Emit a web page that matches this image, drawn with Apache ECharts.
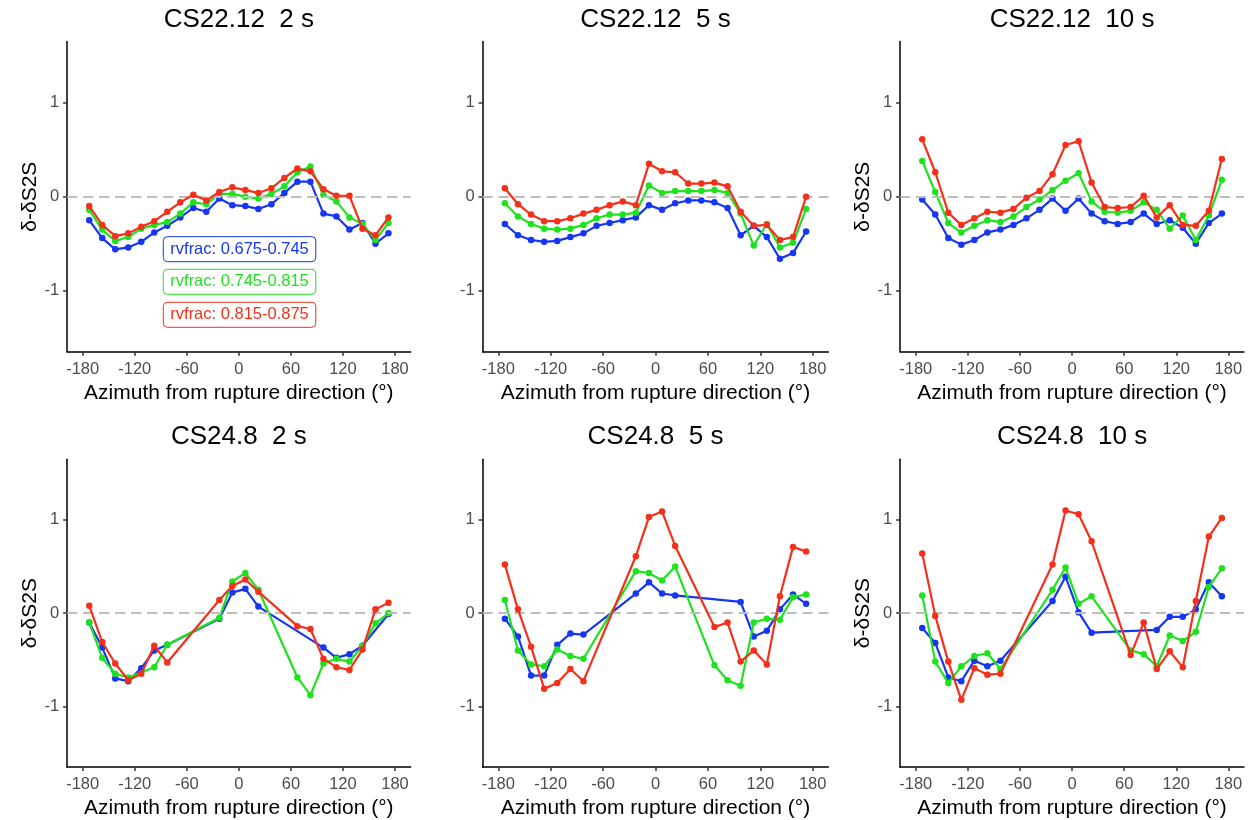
<!DOCTYPE html>
<html><head><meta charset="utf-8">
<script src="https://cdn.jsdelivr.net/npm/echarts@6/dist/echarts.min.js"></script>
<style>html,body{margin:0;padding:0;background:#fff}#c{width:1253px;height:820px}</style>
</head><body><div id="c"></div>
<script>
// ---------- data ----------
const azimuths = [-172.5,-157.5,-142.5,-127.5,-112.5,-97.5,-82.5,-67.5,-52.5,-37.5,-22.5,-7.5,7.5,22.5,37.5,52.5,67.5,82.5,97.5,112.5,127.5,142.5,157.5,172.5];
const xTicks = [-180,-120,-60,0,60,120,180];
const yTicks = [-1,0,1];
const seriesNames = ['rvfrac: 0.675-0.745','rvfrac: 0.745-0.815','rvfrac: 0.815-0.875'];
const panelTitles = ['CS22.12  2 s','CS22.12  5 s','CS22.12  10 s','CS24.8  2 s','CS24.8  5 s','CS24.8  10 s'];
const xTitle = 'Azimuth from rupture direction (°)';
const yTitle = 'δ-δS2S';

const cs22_2s_low  = [-0.25,-0.44,-0.56,-0.54,-0.48,-0.38,-0.31,-0.22,-0.12,-0.16,-0.02,-0.09,-0.10,-0.13,-0.08,0.04,0.16,0.16,-0.18,-0.21,-0.35,-0.28,-0.50,-0.39];
const cs22_2s_mid  = [-0.14,-0.35,-0.47,-0.43,-0.34,-0.30,-0.27,-0.18,-0.06,-0.08,0.03,0.03,0.00,-0.02,0.03,0.11,0.26,0.32,0.02,-0.05,-0.22,-0.29,-0.46,-0.28];
const cs22_2s_high = [-0.10,-0.30,-0.42,-0.39,-0.32,-0.26,-0.16,-0.06,0.02,-0.04,0.05,0.10,0.07,0.04,0.09,0.20,0.30,0.27,0.08,0.01,0.01,-0.34,-0.41,-0.22];

const cs22_5s_low  = [-0.29,-0.41,-0.46,-0.48,-0.47,-0.43,-0.39,-0.31,-0.28,-0.25,-0.22,-0.09,-0.14,-0.07,-0.04,-0.04,-0.06,-0.12,-0.41,-0.31,-0.43,-0.66,-0.60,-0.37];
const cs22_5s_mid  = [-0.07,-0.21,-0.29,-0.34,-0.35,-0.34,-0.30,-0.23,-0.19,-0.19,-0.17,0.12,0.04,0.06,0.06,0.06,0.07,0.04,-0.18,-0.52,-0.29,-0.54,-0.49,-0.13];
const cs22_5s_high = [0.09,-0.08,-0.19,-0.26,-0.26,-0.23,-0.18,-0.14,-0.09,-0.05,-0.09,0.35,0.27,0.26,0.14,0.14,0.15,0.11,-0.16,-0.31,-0.30,-0.46,-0.43,0.00];

const cs22_10s_low  = [-0.03,-0.19,-0.44,-0.51,-0.46,-0.38,-0.35,-0.30,-0.23,-0.14,-0.02,-0.15,-0.02,-0.18,-0.26,-0.29,-0.27,-0.18,-0.29,-0.25,-0.33,-0.50,-0.28,-0.18];
const cs22_10s_mid  = [0.38,0.05,-0.28,-0.38,-0.31,-0.25,-0.27,-0.21,-0.11,-0.03,0.07,0.17,0.25,-0.05,-0.16,-0.17,-0.15,-0.06,-0.14,-0.34,-0.20,-0.46,-0.20,0.18];
const cs22_10s_high = [0.61,0.26,-0.17,-0.30,-0.23,-0.16,-0.17,-0.13,-0.01,0.06,0.24,0.55,0.59,0.15,-0.11,-0.12,-0.11,0.01,-0.22,-0.09,-0.30,-0.31,-0.15,0.40];

const cs24_2s_low  = [-0.10,-0.37,-0.70,-0.73,-0.59,-0.40,-0.34,null,null,null,-0.06,0.22,0.26,0.07,null,null,null,null,-0.37,-0.48,-0.44,-0.35,null,-0.01];
const cs24_2s_mid  = [-0.10,-0.48,-0.65,-0.69,null,-0.58,-0.34,null,null,null,-0.05,0.34,0.43,0.25,null,null,-0.69,-0.88,-0.54,-0.49,-0.52,-0.35,-0.11,0.00];
const cs24_2s_high = [0.08,-0.31,-0.54,-0.72,-0.65,-0.35,-0.53,null,null,null,0.14,0.29,0.36,0.23,null,null,-0.14,-0.17,-0.49,-0.58,-0.61,-0.39,0.04,0.11];

const cs24_5s_low  = [-0.06,-0.25,-0.67,-0.67,-0.34,-0.22,-0.23,null,null,null,0.21,0.33,0.21,0.19,null,null,null,null,0.12,-0.25,-0.19,0.04,0.20,0.10];
const cs24_5s_mid  = [0.14,-0.40,-0.55,-0.57,-0.39,-0.46,-0.49,null,null,null,0.45,0.43,0.35,0.50,null,null,-0.56,-0.72,-0.78,-0.10,-0.06,-0.07,0.17,0.20];
const cs24_5s_high = [0.52,0.04,-0.36,-0.81,-0.75,-0.60,-0.73,null,null,null,0.61,1.03,1.09,0.72,null,null,-0.15,-0.10,-0.52,-0.40,-0.55,0.18,0.71,0.66];

const cs24_10s_low  = [-0.16,-0.32,-0.69,-0.73,-0.51,-0.57,-0.51,null,null,null,0.13,0.39,0.01,-0.21,null,null,null,null,-0.18,-0.04,-0.04,0.04,0.33,0.18];
const cs24_10s_mid  = [0.19,-0.52,-0.75,-0.57,-0.46,-0.43,-0.60,null,null,null,0.25,0.49,0.10,0.18,null,null,-0.40,-0.44,-0.57,-0.24,-0.30,-0.20,0.28,0.48];
const cs24_10s_high = [0.64,-0.03,-0.52,-0.93,-0.59,-0.66,-0.65,null,null,null,0.52,1.10,1.06,0.77,null,null,-0.45,-0.10,-0.60,-0.41,-0.58,0.13,0.82,1.02];

const panels = [
  [cs22_2s_low, cs22_2s_mid, cs22_2s_high],
  [cs22_5s_low, cs22_5s_mid, cs22_5s_high],
  [cs22_10s_low, cs22_10s_mid, cs22_10s_high],
  [cs24_2s_low, cs24_2s_mid, cs24_2s_high],
  [cs24_5s_low, cs24_5s_mid, cs24_5s_high],
  [cs24_10s_low, cs24_10s_mid, cs24_10s_high]
];

// ---------- layout / style ----------
const colors = ['#1636f2', '#1fe21f', '#f4301a'];
const FONT = "'Liberation Sans', Arial, Helvetica, sans-serif";
const colLeft = [67.1, 482.6, 900.1];
const colWidth = [343.5, 345.8, 343.9];
const rowTop = [41.6, 459.2];
const rowHeight = 310.2;
const titleTop = [7, 424];
const showYTitle = [true, false, true, true, false, true];

const grids = [], xAxes = [], yAxes = [], series = [], titles = [];
panels.forEach((p, i) => {
  const c = i % 3, r = Math.floor(i / 3);
  grids.push({left: colLeft[c], top: rowTop[r], width: colWidth[c], height: rowHeight, containLabel: false});
  titles.push({
    text: panelTitles[i], left: colLeft[c] + colWidth[c] / 2, top: titleTop[r], textAlign: 'center', padding: 0,
    textStyle: {fontSize: 26, fontWeight: 'normal', color: '#000', fontFamily: FONT}
  });
  xAxes.push({
    type: 'value', gridIndex: i, min: -198, max: 198,
    axisLine: {show: true, onZero: false, lineStyle: {color: '#000', width: 1.5}},
    axisTick: {show: true, customValues: xTicks, length: 4, lineStyle: {color: '#333', width: 1.5}},
    axisLabel: {customValues: xTicks, color: '#4d4d4d', fontSize: 16.5, margin: 9, fontFamily: FONT},
    splitLine: {show: false},
    name: xTitle, nameLocation: 'middle', nameGap: 31,
    nameTextStyle: {fontSize: 21, color: '#000', fontFamily: FONT}
  });
  yAxes.push({
    type: 'value', gridIndex: i, min: -1.65, max: 1.65,
    axisLine: {show: true, onZero: false, lineStyle: {color: '#000', width: 1.5}},
    axisTick: {show: true, customValues: yTicks, length: 4, lineStyle: {color: '#333', width: 1.5}},
    axisLabel: {customValues: yTicks, color: '#4d4d4d', fontSize: 16.5, margin: 8, fontFamily: FONT},
    splitLine: {show: false},
    name: showYTitle[i] ? yTitle : '', nameLocation: 'middle', nameGap: 26,
    nameTextStyle: {fontSize: 21, color: '#000', fontFamily: FONT}
  });
  p.forEach((vals, s) => {
    const data = [];
    vals.forEach((v, k) => { if (v !== null) data.push([azimuths[k], v]); });
    const ser = {
      type: 'line', name: seriesNames[s], xAxisIndex: i, yAxisIndex: i, data: data,
      symbol: 'circle', symbolSize: 6.5, showSymbol: true,
      lineStyle: {color: colors[s], width: 2.2}, itemStyle: {color: colors[s]},
      animation: false, z: 3 + s
    };
    if (s === 0) {
      ser.markLine = {
        silent: true, symbol: 'none', label: {show: false}, animation: false,
        lineStyle: {color: '#bdbdbd', type: [10, 6], width: 2},
        data: [{yAxis: 0}]
      };
    }
    series.push(ser);
  });
});

const legendTops = [236.7, 269.3, 302.3];
const legends = seriesNames.map((n, s) => ({
  data: [n], left: 163.3, top: legendTops[s], orient: 'horizontal',
  icon: 'none', itemWidth: 0, itemHeight: 17, selectedMode: false,
  padding: [4, 7, 4, 2], borderColor: colors[s], borderWidth: 1, borderRadius: 4, backgroundColor: '#fff',
  textStyle: {color: colors[s], fontSize: 16.5, fontFamily: FONT}
}));

const chart = echarts.init(document.getElementById('c'), null, {renderer: 'canvas'});
chart.setOption({
  backgroundColor: '#fff',
  animation: false,
  textStyle: {fontFamily: FONT},
  title: titles,
  legend: legends,
  grid: grids,
  xAxis: xAxes,
  yAxis: yAxes,
  series: series
});
</script></body></html>
